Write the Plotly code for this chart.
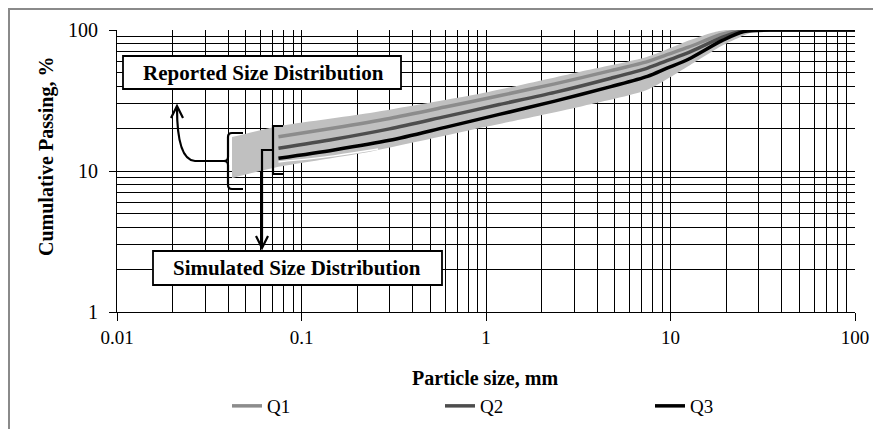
import plotly.graph_objects as go

# ---------------- data ----------------
sizes = [0.075, 0.15, 0.3, 0.6, 1.18, 2.36, 4.75, 7.5, 9.5, 12.5, 19, 25, 37.5, 50, 75, 100]
q1 = [17.5, 20.2, 23.6, 28.4, 34.2, 41.5, 51.5, 59.7, 66.7, 75.5, 93.3, 100, 100, 100, 100, 100]
q2 = [14.5, 16.8, 19.9, 24.3, 29.6, 36.1, 45.5, 53.7, 60.4, 69.0, 88.5, 99.0, 100, 100, 100, 100]
q3 = [12.3, 14.1, 16.5, 20.4, 25.2, 31.3, 39.7, 46.9, 53.4, 62.0, 84.0, 97.5, 100, 100, 100, 100]

band_up_x = [0.042, 0.075, 0.235, 0.964, 3.24, 7.43, 12.8, 17, 20, 100]
band_up_y = [17.4, 20.8, 25.8, 35.7, 50.6, 64.4, 85.0, 96.0, 100, 100]
band_lo_x = [0.042, 0.075, 0.235, 0.964, 3.24, 7.43, 12.8, 19.3, 23.8, 30, 100]
band_lo_y = [8.9, 10.7, 13.7, 20.4, 28.6, 37.5, 56.5, 78.3, 89.0, 99.0, 100]

gap_x = [0.075, 0.15, 0.26]
gap_y = [11.6, 12.8, 14.3]

x_tickvals = [0.01, 0.1, 1, 10, 100]
x_ticktext = ["0.01", "0.1", "1", "10", "100"]
y_tickvals = [1, 10, 100]
y_ticktext = ["1", "10", "100"]

FONT = "Liberation Serif"

# ---------------- layout geometry ----------------
# page coordinates (881x429 window); the page body has an 8px margin
OX, OY = 8, 8
W, H = 881 - OX, 429 - OY
PL, PR, PT, PB = 117, 855, 30, 312          # plot area in page pixels
L, R, T, B = PL - OX, (OX + W) - PR, PT - OY, (OY + H) - PB
PW, PH = PR - PL, PB - PT


def px(x):
    return (x - PL) / PW


def py(y):
    return (PB - y) / PH


fig = go.Figure()

# band of simulated distributions
fig.add_trace(go.Scatter(
    x=band_up_x + band_lo_x[::-1],
    y=band_up_y + band_lo_y[::-1],
    fill="toself", fillcolor="#c0c0c0", mode="lines",
    line=dict(width=0, color="#c0c0c0", shape="spline", smoothing=0.6),
    showlegend=False, hoverinfo="skip"))

fig.add_trace(go.Scatter(x=gap_x, y=gap_y, mode="lines",
                         line=dict(color="white", width=1.5, shape="spline"),
                         showlegend=False, hoverinfo="skip"))

for name, vals, col, leg in [("Q1", q1, "#8c8c8c", "legend"),
                             ("Q2", q2, "#4d4d4d", "legend2"),
                             ("Q3", q3, "#000000", "legend3")]:
    fig.add_trace(go.Scatter(x=sizes, y=vals, mode="lines", name=name, legend=leg,
                             line=dict(color=col, width=3.5, shape="spline", smoothing=0.8)))

grid = dict(showgrid=True, gridcolor="#000000", gridwidth=1)

fig.update_xaxes(type="log", range=[-2, 2], tickvals=x_tickvals, ticktext=x_ticktext,
                 ticks="outside", ticklen=8, tickcolor="black", tickwidth=1,
                 showline=True, linecolor="black", linewidth=1, automargin=False,
                 minor=dict(dtick="D1", showgrid=True, gridcolor="#000000", gridwidth=1, ticks=""),
                 zeroline=False, tickfont=dict(family=FONT, size=19, color="black"),
                 **grid)
fig.update_yaxes(type="log", range=[0, 2], tickvals=y_tickvals, ticktext=y_ticktext,
                 ticks="outside", ticklen=7, tickcolor="black", tickwidth=1,
                 showline=True, linecolor="black", linewidth=1, automargin=False,
                 ticklabelstandoff=7,
                 minor=dict(dtick="D1", showgrid=True, gridcolor="#000000", gridwidth=1, ticks=""),
                 zeroline=False, tickfont=dict(family=FONT, size=20, color="black"),
                 **grid)

shapes = []
# outer chart frame
shapes.append(dict(type="rect", xref="paper", yref="paper",
                   x0=px(9), y0=py(460), x1=px(920), y1=py(9),
                   line=dict(color="#8a8a8a", width=2), fillcolor="rgba(0,0,0,0)", layer="below"))


def path(points_cmds):
    return dict(type="path", xref="paper", yref="paper", path=points_cmds,
                line=dict(color="black", width=2.2), fillcolor="rgba(0,0,0,0)")


def P(x, y):
    return f"{px(x):.5f},{py(y):.5f}"


# left curly bracket (reported)
shapes.append(path(
    f"M{P(243,133)} L{P(232,133)} Q{P(228,133)} {P(228,137)} L{P(228,157)} "
    f"Q{P(228,161)} {P(224,161)} Q{P(228,161)} {P(228,165)} L{P(228,185)} "
    f"Q{P(228,189)} {P(232,189)} L{P(243,189)}"))
# curved arrow to 'Reported' box
shapes.append(path(f"M{P(224,161)} L{P(195,161)} Q{P(177,160)} {P(177,108)}"))
shapes.append(path(f"M{P(171,118)} L{P(177,106)} L{P(183,118)}"))

# right bracket (simulated)
shapes.append(path(f"M{P(283,126)} L{P(273,126)} L{P(273,174)} L{P(283,174)}"))
shapes.append(path(f"M{P(273,150)} L{P(262,150)} L{P(262,246)}"))
shapes.append(path(f"M{P(256,236)} L{P(262,248)} L{P(268,236)}"))

# label boxes
shapes.append(dict(type="rect", xref="paper", yref="paper",
                   x0=px(123), y0=py(89), x1=px(401), y1=py(56),
                   line=dict(color="black", width=1.8), fillcolor="white"))
shapes.append(dict(type="rect", xref="paper", yref="paper",
                   x0=px(153), y0=py(285), x1=px(442), y1=py(251),
                   line=dict(color="black", width=1.8), fillcolor="white"))

annotations = [
    dict(text="<b>Reported Size Distribution</b>", xref="paper", yref="paper",
         x=px(263), y=py(73), showarrow=False, xanchor="center", yanchor="middle",
         font=dict(family=FONT, size=21, color="black")),
    dict(text="<b>Simulated Size Distribution</b>", xref="paper", yref="paper",
         x=px(297), y=py(268), showarrow=False, xanchor="center", yanchor="middle",
         font=dict(family=FONT, size=21, color="black")),
    dict(text="<b>Cumulative Passing, %</b>", xref="paper", yref="paper",
         x=px(46), y=py(157), showarrow=False, textangle=-90,
         xanchor="center", yanchor="middle",
         font=dict(family=FONT, size=20, color="black")),
    dict(text="<b>Particle size, mm</b>", xref="paper", yref="paper",
         x=px(485), y=py(378), showarrow=False, xanchor="center", yanchor="middle",
         font=dict(family=FONT, size=20, color="black")),
]

leg_common = dict(orientation="h", xanchor="left", yanchor="middle",
                  font=dict(family=FONT, size=19, color="black"),
                  bgcolor="rgba(0,0,0,0)", borderwidth=0)

fig.update_layout(
    width=W, height=H,
    margin=dict(l=L, r=R, t=T, b=B, autoexpand=False),
    paper_bgcolor="white", plot_bgcolor="white",
    shapes=shapes, annotations=annotations,
    showlegend=True,
    legend=dict(x=px(227), y=py(406), **leg_common),
    legend2=dict(x=px(440), y=py(406), **leg_common),
    legend3=dict(x=px(650), y=py(406), **leg_common),
    font=dict(family=FONT, color="black"),
)

fig.write_html("out.html")
